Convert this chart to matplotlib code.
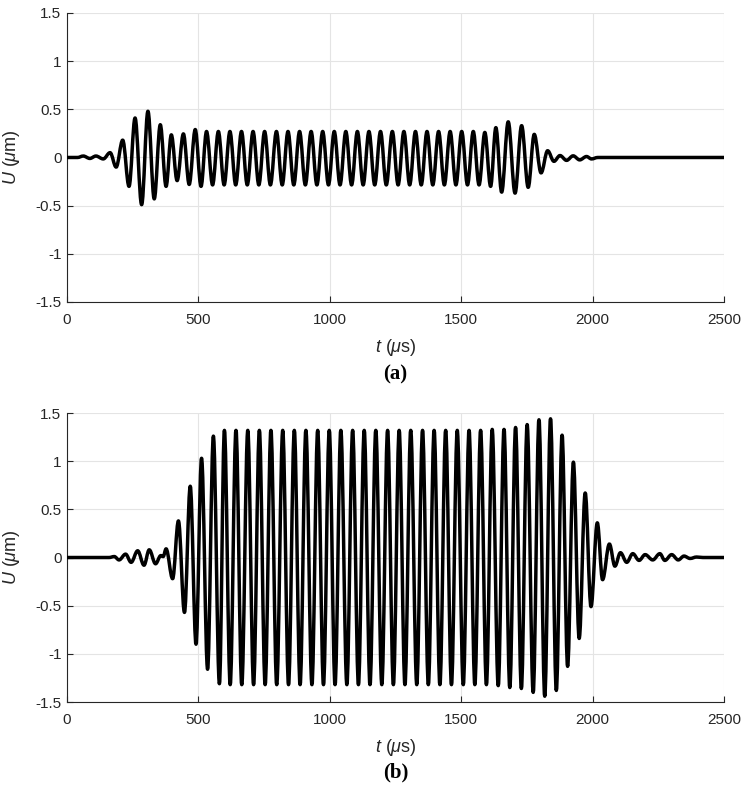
import matplotlib
matplotlib.use('Agg')
import matplotlib.pyplot as plt
from matplotlib.path import Path
from matplotlib.patches import PathPatch

# extrema of the signal in panel (a): time (us) and displacement (um)
t_a = [0, 40, 62, 87, 110, 138, 164, 187, 212, 236, 259, 284, 308, 332, 355, 377,
       397, 419, 443, 465, 488, 510, 531, 554,
       576, 598, 620, 642, 664, 686, 708, 730, 752, 774, 797, 819, 841, 863,
       885, 907, 929, 951, 973, 995, 1017, 1039, 1061, 1083, 1105, 1127, 1149, 1171,
       1193, 1215, 1238, 1260, 1282, 1304, 1326, 1348, 1370, 1392, 1414, 1436,
       1458, 1480, 1502, 1524, 1546, 1568,
       1590, 1612, 1632, 1654, 1679, 1705, 1730, 1755, 1778, 1804, 1829, 1853,
       1876, 1901, 1926, 1951, 1977, 1996, 2020, 2500]
u_a = [0, 0, 0.015, -0.01, 0.015, -0.015, 0.05, -0.10, 0.18, -0.30, 0.41, -0.49, 0.48, -0.43, 0.34, -0.30,
       0.235, -0.24, 0.245, -0.28, 0.29, -0.30, 0.27, -0.285,
       0.27, -0.285, 0.27, -0.285, 0.27, -0.285, 0.27, -0.285, 0.27, -0.285, 0.27, -0.285, 0.27, -0.285,
       0.27, -0.285, 0.27, -0.285, 0.27, -0.285, 0.27, -0.285, 0.27, -0.285, 0.27, -0.285, 0.27, -0.285,
       0.27, -0.285, 0.27, -0.285, 0.27, -0.285, 0.27, -0.285, 0.27, -0.285, 0.27, -0.285,
       0.27, -0.285, 0.27, -0.285, 0.27, -0.285,
       0.26, -0.30, 0.31, -0.36, 0.37, -0.37, 0.33, -0.31, 0.24, -0.16, 0.07, -0.04,
       0.02, -0.03, 0.017, -0.025, 0.01, -0.015, 0, 0]

# extrema of the signal in panel (b)
t_b = [0, 160, 180, 198, 223, 244, 269, 293, 313, 337, 357, 366, 377, 402, 424, 447,
       469, 491, 512, 535, 557, 580,
       599, 621, 643, 665, 688, 710, 732, 754, 776, 798, 821, 843, 865, 887,
       909, 932, 954, 976, 998, 1020, 1042, 1065, 1087, 1109, 1131, 1153, 1175, 1198,
       1220, 1242, 1264, 1286, 1308, 1331, 1353, 1375, 1397, 1419, 1441, 1463,
       1485, 1508, 1530, 1552, 1574, 1596, 1618, 1641, 1663,
       1685, 1707, 1729, 1751, 1774, 1796, 1818, 1840, 1862, 1884, 1905, 1927, 1949,
       1972, 1994, 2018, 2038, 2064, 2085, 2106, 2130, 2153, 2177, 2200, 2229,
       2256, 2275, 2301, 2326, 2348, 2371, 2396, 2420, 2500]
u_b = [0, 0, 0.01, -0.025, 0.035, -0.05, 0.07, -0.08, 0.08, -0.065, 0.02, 0.01, 0.09, -0.22, 0.38, -0.57,
       0.74, -0.90, 1.03, -1.16, 1.26, -1.31,
       1.32, -1.32, 1.32, -1.32, 1.32, -1.32, 1.32, -1.32, 1.32, -1.32, 1.32, -1.32, 1.32, -1.32,
       1.32, -1.32, 1.32, -1.32, 1.32, -1.32, 1.32, -1.32, 1.32, -1.32, 1.32, -1.32, 1.32, -1.32,
       1.32, -1.32, 1.32, -1.32, 1.32, -1.32, 1.32, -1.32, 1.32, -1.32, 1.32, -1.32,
       1.32, -1.32, 1.32, -1.32, 1.32, -1.32, 1.33, -1.33, 1.33,
       -1.35, 1.35, -1.36, 1.38, -1.40, 1.43, -1.44, 1.44, -1.38, 1.27, -1.13, 0.99, -0.84,
       0.67, -0.51, 0.36, -0.23, 0.14, -0.09, 0.05, -0.05, 0.04, -0.03, 0.03, -0.025,
       0.04, -0.03, 0.03, -0.025, 0.015, -0.01, 0.005, 0, 0]

x_ticks = [0, 500, 1000, 1500, 2000, 2500]
y_ticks = [-1.5, -1, -0.5, 0, 0.5, 1, 1.5]
y_tick_labels = ['-1.5', '-1', '-0.5', '0', '0.5', '1', '1.5']

plt.rcParams['font.family'] = ['Liberation Sans', 'DejaVu Sans']
plt.rcParams['mathtext.fontset'] = 'custom'
plt.rcParams['mathtext.rm'] = 'Liberation Sans'
plt.rcParams['mathtext.it'] = 'Liberation Sans:italic'

DARK = '#262626'


def wave_path(t, u, c=0.36):
    """
    smooth curve through the extrema, horizontal tangent at every extremum
    """
    verts = [(t[0], u[0])]
    codes = [Path.MOVETO]
    for i in range(1, len(t)):
        dt = t[i] - t[i - 1]
        verts += [(t[i - 1] + c * dt, u[i - 1]), (t[i] - c * dt, u[i]), (t[i], u[i])]
        codes += [Path.CURVE4] * 3
    return Path(verts, codes)


def draw_panel(ax, t, u):
    ax.add_patch(PathPatch(wave_path(t, u), fill=False, edgecolor='black', lw=2.5,
                           capstyle='round', joinstyle='round', zorder=3))
    ax.set_xlim(0, 2500)
    ax.set_ylim(-1.5, 1.5)
    ax.set_xticks(x_ticks)
    ax.set_yticks(y_ticks)
    ax.set_yticklabels(y_tick_labels)
    ax.grid(True, color='#e4e4e4', lw=0.8)
    ax.set_axisbelow(True)
    for s in ['top', 'right']:
        ax.spines[s].set_visible(False)
    for s in ['left', 'bottom']:
        ax.spines[s].set_color(DARK)
        ax.spines[s].set_linewidth(0.8)
    ax.tick_params(direction='in', length=4, width=0.8, color=DARK, labelcolor=DARK, labelsize=11)
    ax.tick_params(axis='x', pad=8)
    ax.tick_params(axis='y', pad=4)
    ax.set_xlabel(r'$t$ ($\mu$s)', fontsize=13, color=DARK)
    ax.set_ylabel(r'$U$ ($\mu$m)', fontsize=13, color=DARK)
    ax.xaxis.set_label_coords(0.5, -0.122)
    ax.yaxis.set_label_coords(-0.069, 0.5)


fig = plt.figure(figsize=(7.42, 7.87), dpi=100)
ax1 = fig.add_axes([0.0903, 0.6163, 0.8854, 0.3672])
ax2 = fig.add_axes([0.0903, 0.1080, 0.8854, 0.3672])
draw_panel(ax1, t_a, u_a)
draw_panel(ax2, t_b, u_b)

fig.text(0.533, 1 - 374 / 787, '(a)', ha='center', va='center',
         fontfamily='Liberation Serif', fontweight='bold', fontsize=15)
fig.text(0.533, 1 - 772 / 787, '(b)', ha='center', va='center',
         fontfamily='Liberation Serif', fontweight='bold', fontsize=15)

fig.savefig('out.png', dpi=100)
